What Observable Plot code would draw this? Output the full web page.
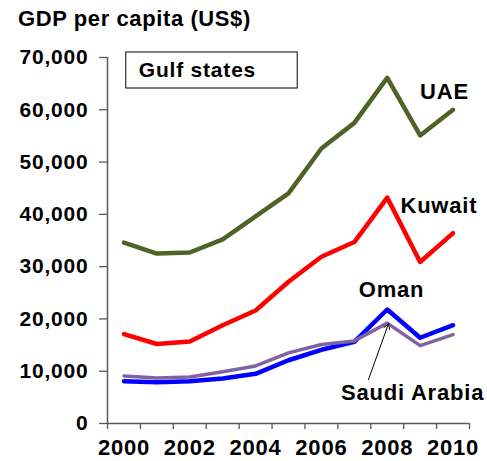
<!DOCTYPE html>
<html>
<head>
<meta charset="utf-8">
<script src="https://cdn.jsdelivr.net/npm/d3@7"></script>
<script src="https://cdn.jsdelivr.net/npm/@observablehq/plot@0.6"></script>
<style>
  body { margin: 0; background: #fff; font-family: "Liberation Sans", Arial, sans-serif; }
  #title { height: 30px; line-height: 30px; padding-top: 4px; padding-left: 18px; font-size: 22px; font-weight: bold; letter-spacing: 0.6px; color: #000; }
  svg text { letter-spacing: 0.8px; }
</style>
</head>
<body>
<div id="title">GDP per capita (US$)</div>
<div id="chart"></div>
<script>
const years = [2000, 2001, 2002, 2003, 2004, 2005, 2006, 2007, 2008, 2009, 2010];
const uae    = [34600, 32500, 32700, 35200, 39600, 44000, 52600, 57500, 66100, 55100, 60000];
const kuwait = [17100, 15200, 15700, 18800, 21600, 27100, 31900, 34700, 43200, 30900, 36400];
const oman   = [8100, 7900, 8100, 8600, 9500, 12100, 14100, 15600, 21800, 16400, 18800];
const saudi  = [9100, 8700, 8900, 9900, 11000, 13500, 15100, 15800, 19200, 14900, 17000];
const evenYearTicks = [2000, 2002, 2004, 2006, 2008, 2010];
const yTicks = [0, 10000, 20000, 30000, 40000, 50000, 60000, 70000];

const seriesNames = ["UAE", "Kuwait", "Oman", "Saudi Arabia"];
const seriesValues = [uae, kuwait, oman, saudi];
const seriesColors = ["#4F6228", "#FF0000", "#0000FF", "#8064A2"];
const seriesWidths = [4.5, 4.5, 4.5, 3.5];

// label anchors (year, value)
const labelNames = ["UAE", "Kuwait", "Oman", "Saudi Arabia"];
const labelYears = [2009.74, 2009.57, 2008.13, 2008.77];
const labelValues = [63500, 41700, 25600, 5900];

const rows = seriesNames.map((name, i) => years.map((yr, j) => ({series: name, year: yr, value: seriesValues[i][j]})));
const labels = labelNames.map((n, i) => ({name: n, year: labelYears[i], value: labelValues[i]}));
const bandEdges = d3.range(1999.5, 2011, 1);

const axisColor = "#595959";

const chart = Plot.plot({
  width: 487,
  height: 427,
  marginLeft: 107,
  marginRight: 18,
  marginTop: 23,
  marginBottom: 38,
  style: {fontFamily: "'Liberation Sans', Arial, sans-serif", color: "#000", background: "#fff"},
  x: {type: "linear", domain: [1999.5, 2010.5], label: null},
  y: {domain: [0, 70000], label: null},
  marks: [
    Plot.rect([{x1: 2000.07, x2: 2005.28, y1: 64070, y2: 70960}], {x1: "x1", x2: "x2", y1: "y1", y2: "y2", fill: "white", stroke: "#000", strokeWidth: 1}),
    Plot.text(["Gulf states"], {x: 2000.45, y: 67500, text: d => d, textAnchor: "start", fontSize: 21, fontWeight: "bold", fill: "#000"}),
    Plot.axisY({ticks: yTicks, tickSize: 8, tickPadding: 11, tickFormat: d3.format(","), fontSize: 21, fontWeight: "bold", stroke: axisColor, strokeWidth: 1.3, fill: "#000"}),
    Plot.axisX({ticks: bandEdges, tickSize: 6, tickFormat: () => "", stroke: axisColor, strokeWidth: 1.3}),
    Plot.axisX({ticks: evenYearTicks, tickSize: 0, tickPadding: 16, tickFormat: d => String(d), fontSize: 22, fontWeight: "bold", fill: "#000"}),
    Plot.ruleX([1999.5], {stroke: axisColor, strokeWidth: 1.5}),
    Plot.ruleY([0], {stroke: axisColor, strokeWidth: 1.5}),
    ...rows.map((r, i) => Plot.line(r, {x: "year", y: "value", stroke: seriesColors[i], strokeWidth: seriesWidths[i], strokeLinejoin: "round"})),
    Plot.arrow([{x1: 2007.43, y1: 8400, x2: 2008.04, y2: 19100}], {x1: "x1", y1: "y1", x2: "x2", y2: "y2", stroke: "#000", strokeWidth: 1, headLength: 9}),
    Plot.text(labels, {x: "year", y: "value", text: "name", fontSize: 22, fontWeight: "bold", fill: "#000"})
  ]
});
document.getElementById("chart").appendChild(chart);
</script>
</body>
</html>
